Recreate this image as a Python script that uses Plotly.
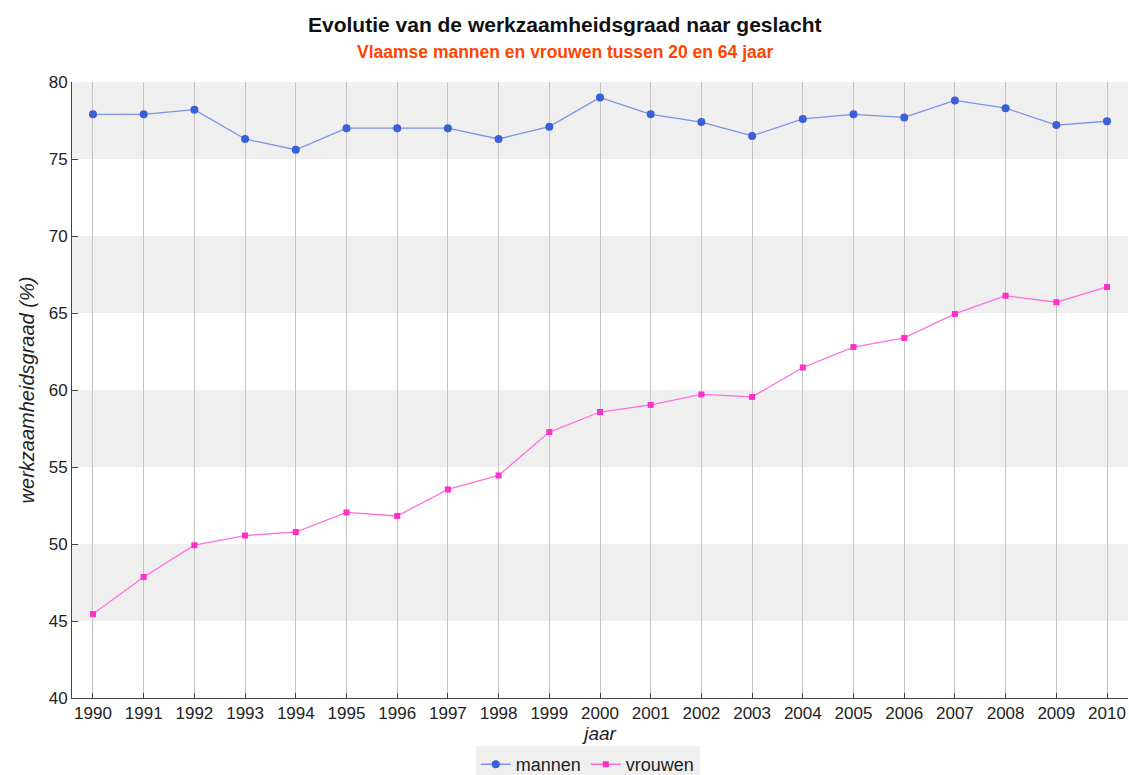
import plotly.graph_objects as go

years = list(range(1990, 2011))
mannen = [77.9, 77.9, 78.2, 76.3, 75.6, 77.0, 77.0, 77.0, 76.3, 77.1, 79.0,
          77.9, 77.4, 76.5, 77.6, 77.9, 77.7, 78.8, 78.3, 77.2, 77.45]
vrouwen = [45.45, 47.86, 49.92, 50.55, 50.78, 52.05, 51.82, 53.54, 54.45, 57.27, 58.57,
           59.03, 59.71, 59.55, 61.46, 62.79, 63.38, 64.94, 66.12, 65.7, 66.69]
y_ticks = [40, 45, 50, 55, 60, 65, 70, 75, 80]

title = "Evolutie van de werkzaamheidsgraad naar geslacht"
subtitle = "Vlaamse mannen en vrouwen tussen 20 en 64 jaar"

W, H = 1129, 800
ML, MR, MT, MB = 72, 1, 82, 102
plot_w = W - ML - MR
title_x = (W / 2 - ML) / plot_w  # centre titles on the whole figure

fig = go.Figure()
fig.add_trace(go.Scatter(
    x=years, y=mannen, mode="lines+markers", name="mannen",
    line=dict(color="#7A93E6", width=1.3),
    marker=dict(symbol="circle", size=8, color="#3A5FD6"),
))
fig.add_trace(go.Scatter(
    x=years, y=vrouwen, mode="lines+markers", name="vrouwen",
    line=dict(color="#FF70DD", width=1.3),
    marker=dict(symbol="square", size=6, color="#FF2FCB"),
))

# alternating gray background bands
shapes = []
for i in range(len(y_ticks) - 1):
    if (len(y_ticks) - 2 - i) % 2 == 0:
        shapes.append(dict(type="rect", xref="paper", yref="y", x0=0, x1=1,
                           y0=y_ticks[i], y1=y_ticks[i + 1],
                           fillcolor="#EFEFEF", line_width=0, layer="below"))

fig.update_layout(
    width=W, height=H,
    margin=dict(l=ML, r=MR, t=MT, b=MB),
    paper_bgcolor="white", plot_bgcolor="white",
    font=dict(family="Liberation Sans, Arial, sans-serif", color="#222222"),
    shapes=shapes,
    showlegend=True,
    legend=dict(orientation="h", x=title_x + 0.022, xanchor="center", y=-0.078, yanchor="top",
                bgcolor="#EFEFEF", font=dict(size=18, color="#222222"),
                itemwidth=30, tracegroupgap=0),
    annotations=[
        dict(text="<b>" + title + "</b>", xref="paper", yref="paper", x=title_x, y=1.0,
             yshift=58, xanchor="center", yanchor="middle", showarrow=False,
             font=dict(size=21, color="#111111")),
        dict(text="<b>" + subtitle + "</b>", xref="paper", yref="paper", x=title_x, y=1.0,
             yshift=30, xanchor="center", yanchor="middle", showarrow=False,
             font=dict(size=17.5, color="#FF4500")),
    ],
)
fig.update_xaxes(
    range=[1989.586, 2010.414], tickmode="array", tickvals=years,
    ticktext=[str(y) for y in years],
    showgrid=True, gridcolor="#C4C4C4", gridwidth=1,
    showline=True, linecolor="#444444", linewidth=1,
    ticks="inside", ticklen=5, tickcolor="#444444",
    tickfont=dict(size=17, color="#222222"),
    title=dict(text="<i>jaar</i>", font=dict(size=19, color="#222222"), standoff=2),
    zeroline=False,
)
fig.update_yaxes(
    range=[40, 80], tickmode="array", tickvals=y_ticks,
    showgrid=False,
    showline=True, linecolor="#444444", linewidth=1,
    ticks="inside", ticklen=6, tickcolor="#444444",
    tickfont=dict(size=17, color="#222222"),
    title=dict(text="<i>werkzaamheidsgraad (%)</i>", font=dict(size=20, color="#222222"), standoff=8),
    zeroline=False,
)

fig.write_html("out.html",
               config={"displayModeBar": False},
               post_script="document.body.style.margin='0';document.body.style.overflow='hidden';")
